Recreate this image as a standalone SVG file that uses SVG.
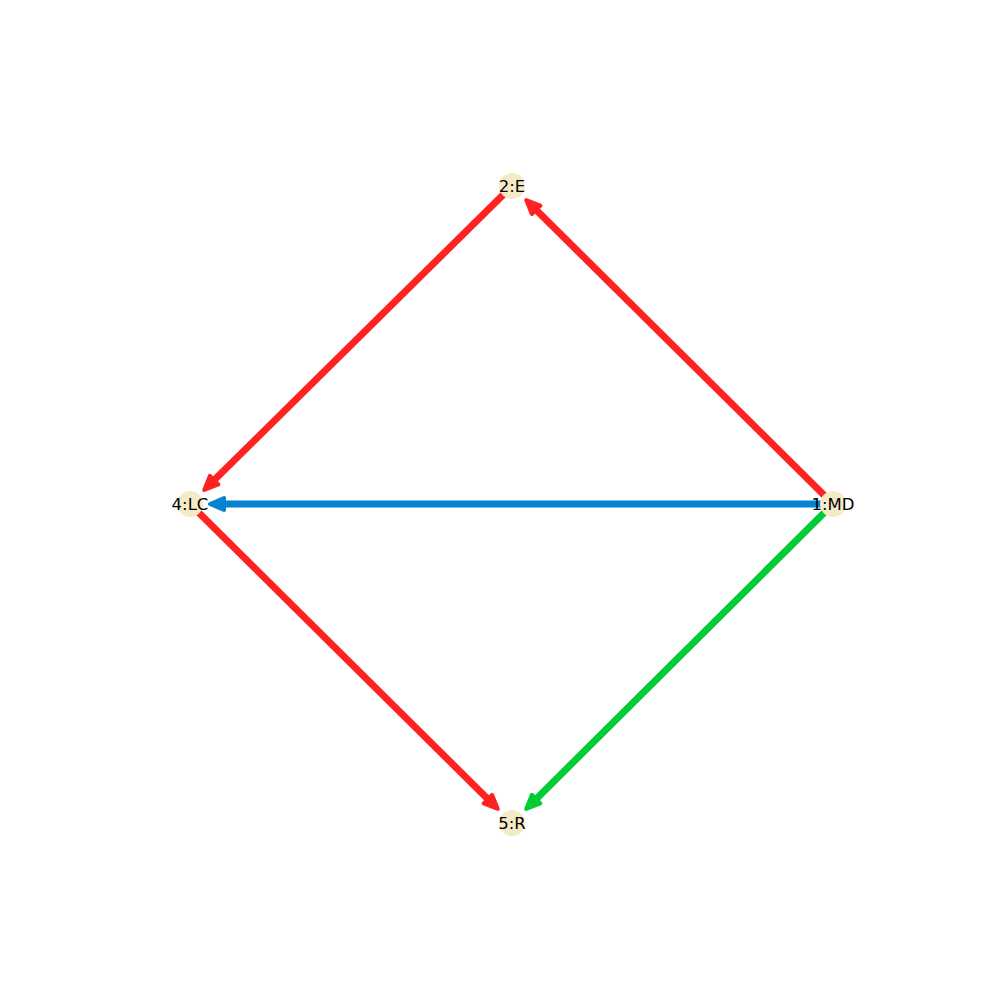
<svg xmlns="http://www.w3.org/2000/svg" width="1000" height="1000" viewBox="0 0 1000 1000">
<style>
.e{stroke-width:7;fill:none;stroke-linecap:butt}
.h{stroke-width:4;stroke-linejoin:round}
.r{stroke:#ff2222;fill:#ff2222}
.b{stroke:#0782d0;fill:#0782d0}
.g{stroke:#00cc33;fill:#00cc33}
.n{fill:#f5eac6}
.t{font-family:"DejaVu Sans",sans-serif;font-size:16.5px;fill:#000;text-anchor:middle;dominant-baseline:central}
</style>
<rect width="1000" height="1000" fill="#fff"/>
<g id="connectors">
<g id="e1-2"><line class="e r" x1="833" y1="504" x2="534.73" y2="208.52"/><polygon class="h r" points="526.21,200.08 540.37,205.67 531.93,214.19"/></g>
<g id="e2-4"><line class="e r" x1="512" y1="186" x2="212.77" y2="481.52"/><polygon class="h r" points="204.23,489.95 209.97,475.84 218.41,484.38"/></g>
<g id="e1-4"><line class="e b" x1="833" y1="504" x2="222" y2="504"/><polygon class="h b" points="210,504 224,498 224,510"/></g>
<g id="e4-5"><line class="e r" x1="190" y1="504" x2="489.27" y2="800.48"/><polygon class="h r" points="497.79,808.92 483.63,803.33 492.07,794.81"/></g>
<g id="e1-5"><line class="e g" x1="833" y1="504" x2="534.70" y2="800.44"/><polygon class="h g" points="526.19,808.90 531.89,794.77 540.35,803.29"/></g>
</g>
<g id="n1"><circle class="n" cx="833" cy="504" r="13"/><text class="t" x="833" y="504">1:MD</text></g>
<g id="n2"><circle class="n" cx="512" cy="186" r="13"/><text class="t" x="512" y="186">2:E</text></g>
<g id="n4"><circle class="n" cx="190" cy="504" r="13"/><text class="t" x="190" y="504">4:LC</text></g>
<g id="n5"><circle class="n" cx="512" cy="823" r="13"/><text class="t" x="512" y="823">5:R</text></g>
</svg>
